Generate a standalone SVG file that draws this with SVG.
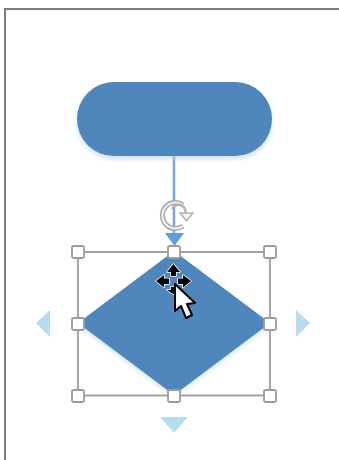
<svg xmlns="http://www.w3.org/2000/svg" width="339" height="460" viewBox="0 0 339 460">
<style>
.h{fill:#fff;stroke:#9c9c9c;stroke-width:1.800}
.a{fill:#b5dcef}
.s{fill:#4f86bb}
.m{fill:#000;stroke:#fff;stroke-width:1.500;paint-order:stroke;stroke-linejoin:round}
</style>
<defs>
<filter id="sh" x="-10%" y="-20%" width="120%" height="140%"><feGaussianBlur stdDeviation="2.5"/></filter>
<filter id="soft" x="-10%" y="-10%" width="120%" height="120%"><feGaussianBlur stdDeviation="0.4"/></filter>
</defs>
<rect width="339" height="460" fill="#fff"/>
<path d="M5 460V9H339" fill="none" stroke="#7d7d7d" stroke-width="2"/>
<g id="connectors">
<path d="M174 155V236" stroke="#72a9de" stroke-width="2.500" fill="none"/>
</g>
<g id="terminator">
<rect x="77" y="85" width="195" height="74" rx="37" fill="#b9d3ec" opacity=".7" filter="url(#sh)"/>
<rect class="s" x="77" y="82" width="195" height="74" rx="37"/>
</g>
<g id="decision">
<path d="M78 325L174 397L270 325Z" fill="#b9d3ec" opacity=".7" filter="url(#sh)"/>
<path class="s" d="M174 251L270 323L174 395L78 323Z"/>
</g>
<g id="selection">
<rect x="78" y="252" width="192" height="143.500" fill="none" stroke="#9c9c9c" stroke-width="1.800"/>
<rect class="h" x="72" y="246" width="12" height="12" rx="1.500"/>
<rect class="h" x="168" y="246" width="12" height="12" rx="1.500"/>
<rect class="h" x="264" y="246" width="12" height="12" rx="1.500"/>
<rect class="h" x="72" y="318" width="12" height="12" rx="1.500"/>
<rect class="h" x="264" y="318" width="12" height="12" rx="1.500"/>
<rect class="h" x="72" y="390" width="12" height="12" rx="1.500"/>
<rect class="h" x="168" y="390" width="12" height="12" rx="1.500"/>
<rect class="h" x="264" y="390" width="12" height="12" rx="1.500"/>
</g>
<g id="rotate" filter="url(#soft)">
<path d="M183 205A13 13 0 1 0 183 226" fill="none" stroke="#ababab" stroke-width="5"/>
<path d="M183 205A13 13 0 1 0 183 226" fill="none" stroke="#f2f2f2" stroke-width="1.800"/>
<path d="M172 209A7 7 0 0 1 185 215" fill="none" stroke="#b4b4b4" stroke-width="2.500"/>
<path d="M180 213H193L186.500 221Z" fill="#f2f2f2" stroke="#b4b4b4" stroke-width="1.500"/>
</g>
<g id="arrows">
<path d="M165 233H184L174.500 246Z" fill="#5ca0de"/>
<path class="a" d="M50 310V337L36 323Z"/>
<path class="a" d="M296 310V337L310 323Z"/>
<path class="a" d="M160 417H188L174 433Z"/>
</g>
<g id="cursor" filter="url(#soft)">
<path class="m" d="M173.500 264L180 272H176V276H171V272H167Z"/>
<path class="m" d="M191 281L183 287.500V284H178V278.500H183V275Z"/>
<path class="m" d="M156 281L164 275V278.500H169V284H164V287.500Z"/>
<path class="m" d="M167 290H171V287H176V294H173Z"/>
<path fill="#fff" stroke="#000" stroke-width="2" stroke-linejoin="round" d="M175 284V311L181 306L186 318L192 315L187 304L195 303Z"/>
</g>
</svg>
